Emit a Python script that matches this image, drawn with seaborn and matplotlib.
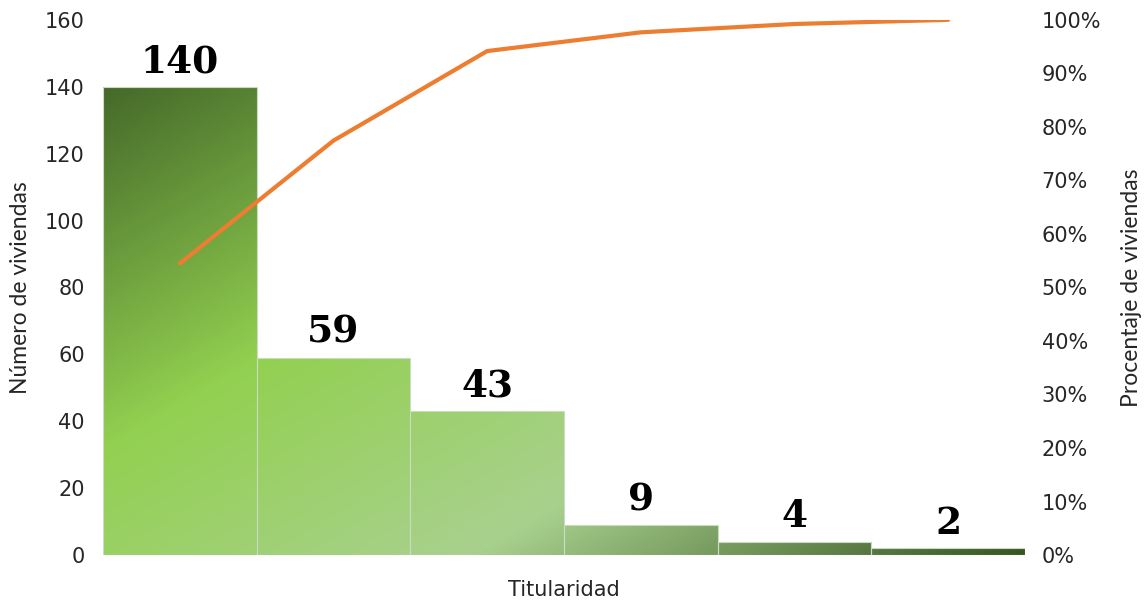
import numpy as np
import pandas as pd
import matplotlib
matplotlib.use("Agg")
import matplotlib.pyplot as plt
from matplotlib.colors import LinearSegmentedColormap
from matplotlib.ticker import PercentFormatter
import seaborn as sns

# datos
categorias = ["C1", "C2", "C3", "C4", "C5", "C6"]
viviendas = [140, 59, 43, 9, 4, 2]

df = pd.DataFrame({"cat": categorias, "n": viviendas})
df["pct"] = df["n"].cumsum() / df["n"].sum() * 100
df["pos"] = range(len(df))

sns.set_theme(style="white")
plt.rcParams['font.family'] = ['DejaVu Sans']

fig = plt.figure(figsize=(11.44, 6.01), dpi=100)
ax = fig.add_axes([0.090, 0.0765, 0.806, 0.8905])

sns.barplot(data=df, x="cat", y="n", width=1.0, ax=ax, color="#92d050",
            edgecolor="#c9dcc0", linewidth=0.8)
ax.set_xlim(-0.5, len(df) - 0.5)
ax.set_ylim(0, 160)

# gradiente diagonal compartido por todas las barras
cmap = LinearSegmentedColormap.from_list("verde", [
    (0.0, "#375623"), (0.40, "#92d050"), (0.70, "#a9d18e"),
    (1.0, "#375623")])
H, W = 300, 600
u = np.linspace(0, 1, W)[None, :]
v = np.linspace(0, 1, H)[:, None]
t = (u + v) / 2
for bar in ax.patches:
    im = ax.imshow(t, cmap=cmap, vmin=0, vmax=1, aspect="auto",
                   extent=(-0.5, len(df) - 0.5, 0, 160), origin="upper", zorder=1)
    im.set_clip_path(bar)
    bar.set_facecolor("none")
    bar.set_zorder(2)

for _, r in df.iterrows():
    ax.text(r["pos"], r["n"] + 2, f"{r['n']}", ha="center", va="bottom",
            family="DejaVu Serif", fontweight="bold", fontsize=27, color="black")

ax.set_yticks(range(0, 161, 20))
ax.set_xticks([])
ax.set_xlabel("Titularidad", fontsize=15, labelpad=18)
ax.set_ylabel("Número de viviendas", fontsize=16.5, labelpad=10, family="Lato")
ax.tick_params(axis="y", labelsize=15, length=0, pad=13)

ax2 = ax.twinx()
sns.lineplot(x=df["pos"], y=df["pct"], ax=ax2, color="#ed7d31", linewidth=3)
ax2.set_ylim(0, 100)
ax2.set_yticks(range(0, 101, 10))
ax2.yaxis.set_major_formatter(PercentFormatter(decimals=0))
ax2.set_ylabel("Procentaje de viviendas", fontsize=16.5, labelpad=14, family="Lato")
ax2.tick_params(axis="y", labelsize=15, length=0, pad=12)
ax2.set_xlim(-0.5, len(df) - 0.5)

for a in (ax, ax2):
    for s in a.spines.values():
        s.set_visible(False)

fig.savefig("out.png", dpi=100)
